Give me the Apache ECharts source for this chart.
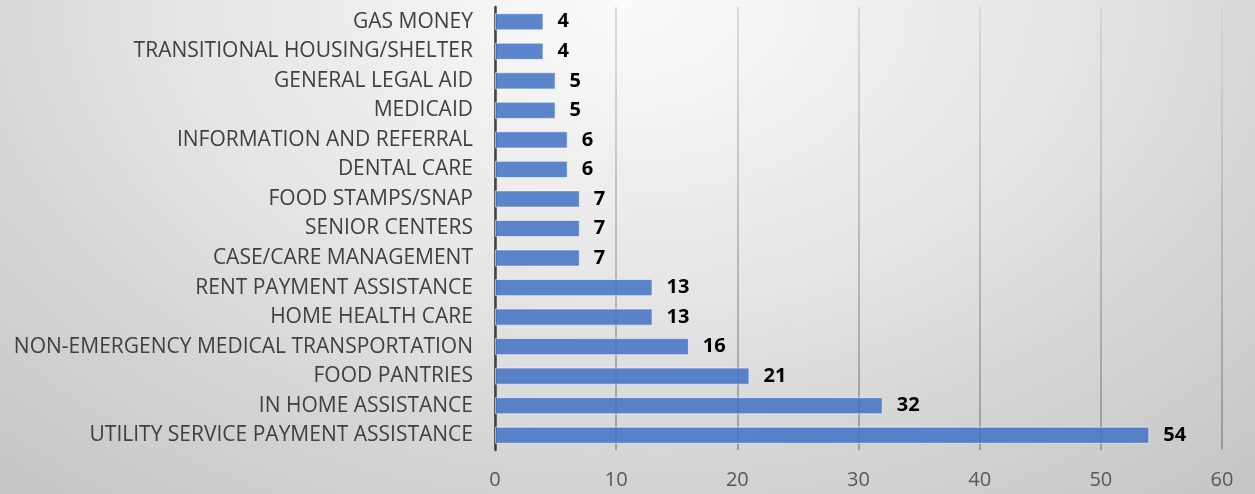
<!DOCTYPE html>
<html>
<head>
<meta charset="utf-8">
<script src="https://cdn.jsdelivr.net/npm/echarts@6/dist/echarts.min.js"></script>
<style>
html,body{margin:0;padding:0;width:1255px;height:494px;overflow:hidden;}
body{background:radial-gradient(ellipse 75% 130% at 50% 0%, #fbfbfb 0%, #e6e6e6 45%, #d3d3d3 75%, #c6c6c6 100%);}
#chart{width:1255px;height:494px;}
</style>
</head>
<body>
<div id="chart"></div>
<script>
const categories = [
  "UTILITY SERVICE PAYMENT ASSISTANCE",
  "IN HOME ASSISTANCE",
  "FOOD PANTRIES",
  "NON-EMERGENCY MEDICAL TRANSPORTATION",
  "HOME HEALTH CARE",
  "RENT PAYMENT ASSISTANCE",
  "CASE/CARE MANAGEMENT",
  "SENIOR CENTERS",
  "FOOD STAMPS/SNAP",
  "DENTAL CARE",
  "INFORMATION AND REFERRAL",
  "MEDICAID",
  "GENERAL LEGAL AID",
  "TRANSITIONAL HOUSING/SHELTER",
  "GAS MONEY"
];
const values = [54, 32, 21, 16, 13, 13, 7, 7, 7, 6, 6, 5, 5, 4, 4];
const xTicks = [0, 10, 20, 30, 40, 50, 60];

const chart = echarts.init(document.getElementById('chart'), null, {renderer: 'canvas'});
const font = "'Open Sans', 'Liberation Sans', sans-serif";
chart.setOption({
  backgroundColor: 'transparent',
  animation: false,
  grid: {left: 495, right: 33, top: 7, bottom: 44, containLabel: false},
  xAxis: {
    type: 'value',
    min: xTicks[0],
    max: xTicks[xTicks.length - 1],
    interval: 10,
    axisLine: {show: false},
    axisTick: {show: false},
    axisLabel: {color: '#595959', fontSize: 20, fontFamily: font, margin: 20},
    splitLine: {
      show: true,
      lineStyle: {
        width: 1.5,
        color: new echarts.graphic.LinearGradient(0, 7, 0, 450, [
          {offset: 0, color: '#d2d2d2'},
          {offset: 1, color: '#8a8a8a'}
        ], true)
      }
    }
  },
  yAxis: {
    type: 'category',
    data: categories,
    axisLine: {show: true, lineStyle: {color: '#404040', width: 2.5}},
    axisTick: {show: false},
    axisLabel: {color: '#404040', fontSize: 21, fontFamily: font, margin: 22}
  },
  series: [{
    type: 'bar',
    data: values,
    barWidth: '58%',
    itemStyle: {
      color: 'rgba(68,114,196,0.86)',
      borderColor: 'rgba(255,255,255,0.55)',
      borderWidth: 1
    },
    label: {
      show: true,
      position: 'right',
      distance: 14,
      color: '#000',
      fontWeight: 'bold',
      fontSize: 20,
      fontFamily: font
    }
  }]
});
</script>
</body>
</html>
